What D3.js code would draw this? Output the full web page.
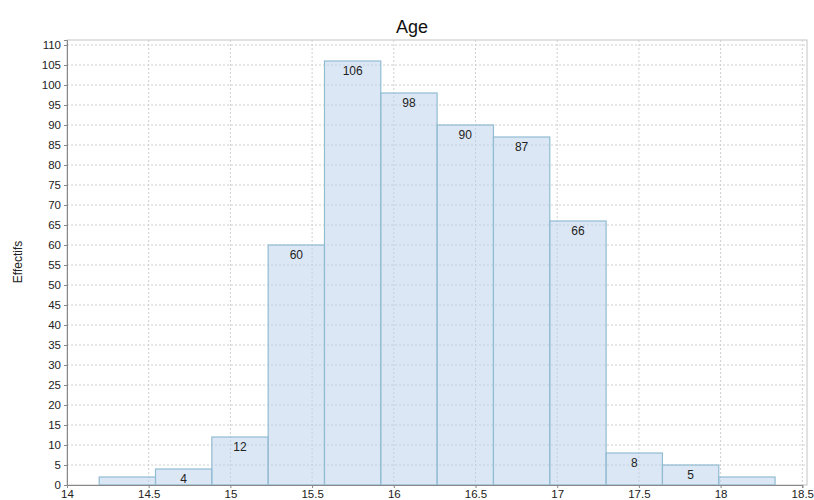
<!DOCTYPE html>
<html><head><meta charset="utf-8">
<script src="https://cdn.jsdelivr.net/npm/d3@7"></script>
<style>body{margin:0;background:#fff;} text{font-family:"Liberation Sans",Arial,sans-serif;}</style>
</head><body>
<svg id="c" width="814" height="500"></svg>
<script>
const counts = [2, 4, 12, 60, 106, 98, 90, 87, 66, 8, 5, 2];
const binStart = 14.197;
const binWidth = 0.3447;
const xTicks = [14, 14.5, 15, 15.5, 16, 16.5, 17, 17.5, 18, 18.5];
const yTicks = d3.range(0, 111, 5);
const title = "Age";
const yLabel = "Effectifs";

const svg = d3.select("#c");
const L = 67, R = 807, T = 40, B = 485;
const x = d3.scaleLinear().domain([14, 18.5]).range([L, L + 4.5 * 163.4]);
const y = d3.scaleLinear().domain([0, 111.25]).range([B, T]);

svg.append("rect").attr("x", L).attr("y", T).attr("width", R - L).attr("height", B - T)
  .attr("fill", "#fff").attr("stroke", "#c4c4c4");

// grid
svg.append("g").selectAll("line").data(yTicks.filter(d => d > 0)).join("line")
  .attr("x1", L).attr("x2", R).attr("y1", d => y(d)).attr("y2", d => y(d))
  .attr("stroke", "#cfcfcf").attr("stroke-dasharray", "2,2");
svg.append("g").selectAll("line").data(xTicks.filter(d => d > 14)).join("line")
  .attr("x1", d => x(d)).attr("x2", d => x(d)).attr("y1", T).attr("y2", B)
  .attr("stroke", "#cfcfcf").attr("stroke-dasharray", "2,2");

// bars
const bins = counts.map((c, i) => ({ x0: binStart + i * binWidth, x1: binStart + (i + 1) * binWidth, c }));
svg.append("g").selectAll("rect").data(bins).join("rect")
  .attr("x", d => x(d.x0)).attr("width", d => x(d.x1) - x(d.x0))
  .attr("y", d => y(d.c)).attr("height", d => y(0) - y(d.c))
  .attr("fill", "rgba(190,212,235,0.55)").attr("stroke", "#92bcd2").attr("stroke-width", 1.2);

svg.append("g").selectAll("text").data(bins.filter(d => d.c >= 4)).join("text")
  .attr("x", d => (x(d.x0) + x(d.x1)) / 2).attr("y", d => y(d.c) + 14)
  .attr("text-anchor", "middle").attr("font-size", 12).attr("fill", "#222")
  .text(d => d.c);

// axes
const ya = svg.append("g").attr("transform", `translate(${L},0)`)
  .call(d3.axisLeft(y).tickValues(yTicks).tickSize(3).tickPadding(3));
const xa = svg.append("g").attr("transform", `translate(0,${B})`)
  .call(d3.axisBottom(x).tickValues(xTicks).tickSize(3).tickPadding(2).tickFormat(d3.format("")));
[ya, xa].forEach(a => {
  a.select(".domain").attr("stroke", "#888");
  a.selectAll(".tick line").attr("stroke", "#888");
  a.selectAll("text").attr("font-size", 11.5).attr("fill", "#222").attr("font-family", "Liberation Sans, Arial, sans-serif");
});

svg.append("text").attr("x", 412).attr("y", 33).attr("text-anchor", "middle")
  .attr("font-size", 18).attr("fill", "#111").text(title);
svg.append("text").attr("transform", "translate(22,262) rotate(-90)").attr("text-anchor", "middle")
  .attr("font-size", 12).attr("fill", "#222").text(yLabel);
</script>
</body></html>
